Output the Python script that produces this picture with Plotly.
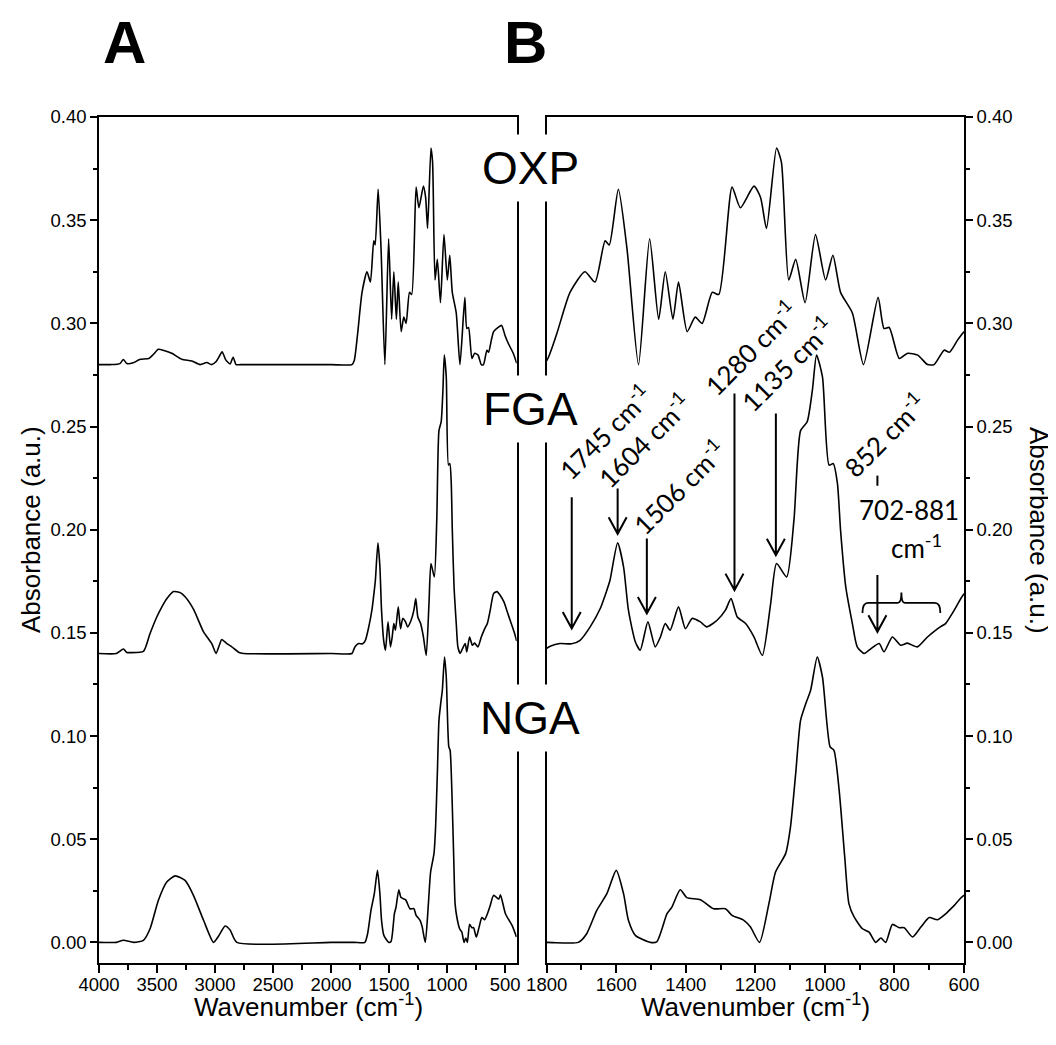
import plotly.graph_objects as go

# ---------------- data (wavenumber cm-1, absorbance a.u.) ----------------
oxp_wn = [4000, 3900, 3820, 3790, 3760, 3700, 3650, 3570, 3530, 3488, 3440, 3373, 3287, 3200,
          3129, 3070, 3030, 2990, 2970, 2939, 2910, 2898, 2870, 2844, 2818, 2780, 2500, 2000,
          1820, 1800, 1771, 1733, 1690, 1661, 1632, 1620, 1594, 1569, 1536, 1504, 1478, 1459,
          1437, 1421, 1396, 1373, 1353, 1324, 1305, 1267, 1243, 1204, 1185, 1168, 1139, 1125,
          1104, 1084, 1057, 1027, 998, 977, 955, 921, 889, 847, 830, 815, 786, 762, 733, 705,
          686, 657, 642, 618, 599, 560, 530, 500, 470, 430, 400]
oxp_abs = [0.280, 0.280, 0.2805, 0.2825, 0.2805, 0.281, 0.2825, 0.283, 0.285, 0.2874, 0.2868,
           0.2855, 0.2826, 0.2818, 0.280, 0.281, 0.280, 0.2815, 0.2833, 0.2862, 0.2825, 0.2816,
           0.2803, 0.2836, 0.280, 0.280, 0.280, 0.280,
           0.280, 0.282, 0.295, 0.315, 0.325, 0.320, 0.340, 0.338, 0.365, 0.336, 0.280, 0.341,
           0.302, 0.325, 0.302, 0.320, 0.296, 0.303, 0.300, 0.315, 0.314, 0.366, 0.356, 0.3665,
           0.361, 0.346, 0.385, 0.378, 0.321, 0.331, 0.310, 0.343, 0.321, 0.333, 0.315, 0.305,
           0.280, 0.3126, 0.2975, 0.298, 0.283, 0.2855, 0.2846, 0.280, 0.280, 0.287, 0.286,
           0.292, 0.296, 0.298, 0.299, 0.294, 0.290, 0.2855, 0.2806]

fga_wn = [4000, 3850, 3790, 3760, 3735, 3617, 3560, 3502, 3459, 3416, 3358, 3300, 3258, 3186,
          3099, 3028, 2991, 2960, 2942, 2898, 2855, 2797, 2755, 2000, 1820, 1800, 1790, 1762,
          1728, 1704, 1675, 1646, 1627, 1618, 1596, 1579, 1565, 1545, 1531, 1509, 1488, 1473,
          1459, 1445, 1421, 1401, 1382, 1358, 1340, 1310, 1286, 1270, 1252, 1228, 1204, 1180,
          1156, 1139, 1110, 1089, 1070, 1051, 1036, 1024, 1007, 988, 976, 964, 955, 940, 921,
          907, 887, 870, 844, 830, 806, 782, 763, 734, 705, 681, 667, 653, 628, 599, 570, 540,
          510, 480, 450, 420, 400]
fga_abs = [0.140, 0.140, 0.1422, 0.1405, 0.1404, 0.141, 0.1497, 0.1577, 0.1625, 0.1665, 0.170,
           0.1695, 0.1675, 0.1615, 0.1505, 0.1448, 0.140, 0.1445, 0.1468, 0.1448, 0.1432,
           0.1406, 0.140, 0.140, 0.140, 0.1425, 0.1435, 0.1448,
           0.1447, 0.1464, 0.1529, 0.1618, 0.1707, 0.1755, 0.1936, 0.182, 0.161, 0.1456,
           0.1416, 0.1553, 0.1432, 0.148, 0.1545, 0.1513, 0.1626, 0.152, 0.157, 0.1553, 0.1529,
           0.1561, 0.161, 0.1666, 0.1577, 0.1545, 0.148, 0.139, 0.1642, 0.1836, 0.1771, 0.2046,
           0.248, 0.2523, 0.2676, 0.2846, 0.274, 0.2313, 0.232, 0.2224, 0.1998, 0.1723, 0.1545,
           0.1432, 0.140, 0.142, 0.1448, 0.1408, 0.148, 0.144, 0.145, 0.1432, 0.148, 0.1513,
           0.153, 0.1545, 0.161, 0.169, 0.170, 0.168, 0.165, 0.160, 0.155, 0.150, 0.146]

nga_wn = [4000, 3850, 3790, 3700, 3617, 3560, 3488, 3416, 3344, 3258, 3186, 3099, 3013, 2970,
          2913, 2870, 2812, 2000, 1800, 1709, 1685, 1656, 1627, 1600, 1579, 1565, 1545, 1502,
          1483, 1454, 1440, 1416, 1397, 1358, 1320, 1286, 1267, 1233, 1214, 1188, 1161, 1142,
          1113, 1099, 1084, 1070, 1055, 1041, 1022, 1007, 985, 974, 959, 943, 931, 916, 892,
          873, 854, 839, 825, 806, 786, 772, 748, 724, 700, 676, 652, 628, 599, 554, 540, 497,
          440, 402]
nga_abs = [0.000, 0.000, 0.001, 0.000, 0.001, 0.0066, 0.0204, 0.0292, 0.0322, 0.030, 0.0228,
           0.0107, 0.000, 0.003, 0.0079, 0.006, 0.000, 0.000, 0.000, 0.000, 0.0042, 0.0155,
           0.0236, 0.0349, 0.0236, 0.0107, 0.0034, 0.000, 0.0004, 0.0139, 0.0171, 0.0255,
           0.0217, 0.0207, 0.0163, 0.0163, 0.0131, 0.0107, 0.0074, 0.000, 0.0188, 0.0341,
           0.043, 0.0559, 0.0818, 0.1076, 0.1157, 0.1222, 0.1383, 0.1286, 0.0947, 0.0931,
           0.0737, 0.0414, 0.0188, 0.0123, 0.0066, 0.005, 0.000, 0.0021, 0.000, 0.0087, 0.0071,
           0.0071, 0.0026, 0.0074, 0.012, 0.011, 0.0139, 0.0179, 0.0228, 0.021, 0.023, 0.0139,
           0.0082, 0.0026]

sample_names = ["OXP", "FGA", "NGA"]
x_ticks_a = [4000, 3500, 3000, 2500, 2000, 1500, 1000, 500]
x_ticks_b = [1800, 1600, 1400, 1200, 1000, 800, 600]
y_ticks = [0.00, 0.05, 0.10, 0.15, 0.20, 0.25, 0.30, 0.35, 0.40]

# peak annotations (panel B)
peak_labels = ["1745 cm<sup>-1</sup>", "1604 cm<sup>-1</sup>", "1506 cm<sup>-1</sup>",
               "1280 cm<sup>-1</sup>", "1135 cm<sup>-1</sup>", "852 cm<sup>-1</sup>"]
label_wn = [1632, 1519, 1419, 1212, 1108, 828]
label_abs = [0.2475, 0.2436, 0.2208, 0.2881, 0.2804, 0.246]
arrow_wn = [1728, 1596, 1512, 1260, 1141, 849]
arrow_top = [0.2157, 0.220, 0.1957, 0.266, 0.2563, 0.178]
arrow_tip = [0.1521, 0.198, 0.1594, 0.1707, 0.1876, 0.1505]

# ---------------- layout geometry ----------------
# the page body has an 8 px margin, so the figure is drawn 8 px in from the top-left
OFF = 8
PAGE_W, PAGE_H = 1056, 1045
PLOT_L, PLOT_R, PLOT_T, PLOT_B = 99, 964, 117, 963   # plot area in page pixels
W, H = PAGE_W - OFF, PAGE_H - OFF
L, T = PLOT_L - OFF, PLOT_T - OFF
R, B = PAGE_W - PLOT_R, PAGE_H - PLOT_B
PW = PLOT_R - PLOT_L
PH = PLOT_B - PLOT_T


def pxx(x):
    return (x - PLOT_L) / PW


def pxy(y):
    return (PLOT_B - y) / PH


dom_a = [0.0, pxx(516.7)]
dom_b = [pxx(546.7), 1.0]

FONT = "Liberation Sans, Arial, sans-serif"
LFONT = "Lato, Calibri, sans-serif"

fig = go.Figure()
for wn, ab in [(oxp_wn, oxp_abs), (fga_wn, fga_abs), (nga_wn, nga_abs)]:
    for xa, ya in [("x", "y"), ("x2", "y2")]:
        fig.add_trace(go.Scatter(x=wn, y=ab, xaxis=xa, yaxis=ya, mode="lines",
                                 line=dict(color="black", width=1.6, shape="spline", smoothing=0.6),
                                 showlegend=False, hoverinfo="skip"))

axis_common = dict(showline=True, linecolor="black", linewidth=1.6, mirror=True,
                   ticks="outside", tickcolor="black", tickwidth=1.5, showgrid=False,
                   zeroline=False, tickfont=dict(family=FONT, size=18.5, color="black"))

fig.update_layout(
    width=W, height=H,
    margin=dict(l=L, r=R, t=T, b=B),
    paper_bgcolor="white", plot_bgcolor="white",
    showlegend=False,
    xaxis=dict(domain=dom_a, range=[4000, 400], tickvals=x_ticks_a, ticklen=8, anchor="y",
               ticklabelstandoff=-4,
               minor=dict(ticks="outside", ticklen=5, dtick=250, tick0=0, tickcolor="black", tickwidth=1.5),
               **axis_common),
    xaxis2=dict(domain=dom_b, range=[1800, 600], tickvals=x_ticks_b, ticklen=8, anchor="y2",
                ticklabelstandoff=-4,
                minor=dict(ticks="outside", ticklen=5, dtick=100, tick0=0, tickcolor="black", tickwidth=1.5),
                **axis_common),
    yaxis=dict(domain=[0, 1], range=[-0.01, 0.40], tickvals=y_ticks, tickformat=".2f", ticklen=7,
               anchor="x",
               minor=dict(ticks="outside", ticklen=4, dtick=0.025, tick0=0, tickcolor="black", tickwidth=1.5),
               **axis_common),
    yaxis2=dict(domain=[0, 1], range=[-0.01, 0.40], tickvals=y_ticks, tickformat=".2f", ticklen=7,
                anchor="x2", side="right",
                minor=dict(ticks="outside", ticklen=4, dtick=0.025, tick0=0, tickcolor="black", tickwidth=1.5),
                **axis_common),
)

ann = []
# axis titles
for cx in [308, 755]:
    ann.append(dict(text="Wavenumber (cm<sup>-1</sup>)", x=pxx(cx), y=pxy(1005), xref="paper", yref="paper",
                    showarrow=False, font=dict(family=FONT, size=26, color="black"),
                    xanchor="center", yanchor="middle"))
ann.append(dict(text="Absorbance (a.u.)", x=pxx(31), y=pxy(530), xref="paper", yref="paper",
                showarrow=False, textangle=-90, font=dict(family=FONT, size=26, color="black"),
                xanchor="center", yanchor="middle"))
ann.append(dict(text="Absorbance (a.u.)", x=pxx(1039), y=pxy(530), xref="paper", yref="paper",
                showarrow=False, textangle=90, font=dict(family=FONT, size=26, color="black"),
                xanchor="center", yanchor="middle"))
# panel letters
for letter, cx in [("A", 124.5), ("B", 525)]:
    ann.append(dict(text="<b>%s</b>" % letter, x=pxx(cx), y=pxy(43), xref="paper", yref="paper",
                    showarrow=False, font=dict(family=FONT, size=60, color="black"),
                    xanchor="center", yanchor="middle"))
# sample labels (white box interrupts the frame)
for name, cy in zip(sample_names, [168.5, 408.5, 718]):
    ann.append(dict(text=name, x=pxx(530), y=pxy(cy), xref="paper", yref="paper",
                    showarrow=False, font=dict(family=FONT, size=46, color="black"),
                    bgcolor="white", borderpad=7, xanchor="center", yanchor="middle"))
# peak labels
for txt, lx, ly in zip(peak_labels, label_wn, label_abs):
    ann.append(dict(text=txt, x=lx, y=ly, xref="x2", yref="y2", showarrow=False, textangle=-45,
                    font=dict(family=LFONT, size=26, color="black"),
                    xanchor="center", yanchor="middle"))
ann.append(dict(text="702-881", x=758, y=0.2097, xref="x2", yref="y2", showarrow=False,
                font=dict(family=LFONT, size=26, color="black"), xanchor="center", yanchor="middle"))
ann.append(dict(text="cm<sup>-1</sup>", x=738, y=0.1919, xref="x2", yref="y2", showarrow=False,
                font=dict(family=LFONT, size=26, color="black"), xanchor="center", yanchor="middle"))
fig.update_layout(annotations=ann)

# arrows (vertical stem + open V head), in data units of panel B
head_dx = 9 / (PW * (dom_b[1] - dom_b[0]) / 1200)   # half width of arrow head in cm-1
head_dy = 16.5 / (PH / 0.41)                        # head height in absorbance units
shapes = []
for x, top, tip in zip(arrow_wn, arrow_top, arrow_tip):
    path = (f"M {x},{top} L {x},{tip} "
            f"M {x - head_dx},{tip + head_dy} L {x},{tip} L {x + head_dx},{tip + head_dy}")
    shapes.append(dict(type="path", path=path, xref="x2", yref="y2",
                       line=dict(color="black", width=2)))
# small tick below the 852 label
shapes.append(dict(type="path", path="M 849,0.2213 L 849,0.2262", xref="x2", yref="y2",
                   line=dict(color="black", width=2)))
# bracket 702-881
bk = ("M 892,0.1596 Q 892,0.1645 876,0.1645 L 791,0.1645 Q 780,0.1645 780,0.1696 "
      "Q 780,0.1645 770,0.1645 L 684,0.1645 Q 668,0.1645 668,0.1596")
shapes.append(dict(type="path", path=bk, xref="x2", yref="y2", line=dict(color="black", width=1.8)))
fig.update_layout(shapes=shapes)

fig.write_html("out.html")
